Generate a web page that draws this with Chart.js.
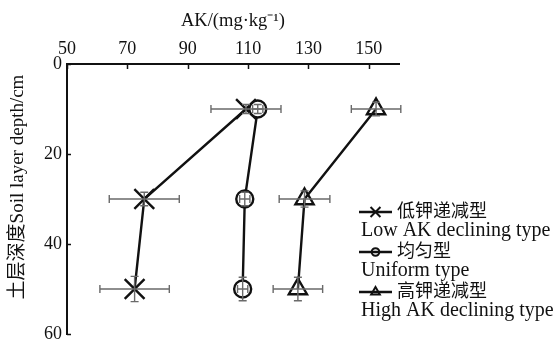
<!DOCTYPE html>
<html>
<head>
<meta charset="utf-8">
<script src="https://cdn.jsdelivr.net/npm/chart.js@4.4.1/dist/chart.umd.min.js"></script>
<style>
  html, body { margin: 0; padding: 0; background: #fff; }
  canvas { display: block; }
</style>
</head>
<body>
<canvas id="c" width="558" height="340"></canvas>
<script>
// Soil depth (cm) of the three sampled layers
const depths = [10, 30, 50];

// Available potassium, mg/kg, with standard errors (AK and depth)
const lowAK = [109.3, 75.6, 72.4];
const lowAKErr = [11.6, 11.6, 11.5];
const lowAKDepthErr = [1.0, 1.5, 2.8];

const uniformAK = [113.2, 108.9, 108.2];
const uniformAKErr = [1.7, 1.7, 1.7];
const uniformDepthErr = [1.0, 1.5, 2.6];

const highAK = [152.4, 128.7, 126.5];
const highAKErr = [8.2, 8.4, 8.2];
const highAKDepthErr = [1.5, 1.8, 2.6];

const xTicks = [50, 70, 90, 110, 130, 150];
const yTicks = [0, 20, 40, 60];

const seriesNames = [
  ['低钾递减型', 'Low AK declining type'],
  ['均匀型', 'Uniform type'],
  ['高钾递减型', 'High AK declining type']
];
const xTitle = 'AK/(mg·kg⁻¹)';
const yTitle = '土层深度Soil layer depth/cm';

const SERIF = '"Liberation Serif", "Times New Roman", "Noto Sans CJK SC", serif';
const CJK = '"Noto Sans CJK SC", "Liberation Serif", sans-serif';
const INK = '#111';
const ERR = '#6a6a6a';

function points(vals, errs, dErrs) {
  return vals.map((v, i) => ({ x: v, y: depths[i], xErr: errs[i], yErr: dErrs[i] }));
}

const datasets = [
  { label: seriesNames[0][1], data: points(lowAK, lowAKErr, lowAKDepthErr),
    pointStyle: 'crossRot', pointRadius: 14, pointBorderWidth: 2.4,
    pointBackgroundColor: 'rgba(0,0,0,0)' },
  { label: seriesNames[1][1], data: points(uniformAK, uniformAKErr, uniformDepthErr),
    pointStyle: 'circle', pointRadius: 8.5, pointBorderWidth: 2.4,
    pointBackgroundColor: '#fff' },
  { label: seriesNames[2][1], data: points(highAK, highAKErr, highAKDepthErr),
    pointStyle: 'triangle', pointRadius: 10.5, pointBorderWidth: 2.4,
    pointBackgroundColor: 'rgba(0,0,0,0)' }
].map(d => Object.assign({
  borderColor: INK, borderWidth: 2.4, pointBorderColor: INK,
  pointHoverRadius: d.pointRadius, fill: false, tension: 0
}, d));

// Horizontal (AK) and vertical (depth) error bars with caps
const errorBars = {
  id: 'errorBars',
  afterDatasetsDraw(chart) {
    const { ctx, scales: { x, y } } = chart;
    ctx.save();
    ctx.strokeStyle = ERR;
    ctx.lineWidth = 1.4;
    chart.data.datasets.forEach((ds, di) => {
      chart.getDatasetMeta(di).data.forEach((el, i) => {
        const r = ds.data[i];
        const py = el.y, px = el.x;
        const xl = x.getPixelForValue(r.x - r.xErr), xr = x.getPixelForValue(r.x + r.xErr);
        ctx.beginPath();
        ctx.moveTo(xl, py); ctx.lineTo(xr, py);
        ctx.moveTo(xl, py - 4); ctx.lineTo(xl, py + 4);
        ctx.moveTo(xr, py - 4); ctx.lineTo(xr, py + 4);
        const yt = y.getPixelForValue(r.y - r.yErr), yb = y.getPixelForValue(r.y + r.yErr);
        ctx.moveTo(px, yt); ctx.lineTo(px, yb);
        ctx.moveTo(px - 4, yt); ctx.lineTo(px + 4, yt);
        ctx.moveTo(px - 4, yb); ctx.lineTo(px + 4, yb);
        ctx.stroke();
      });
    });
    ctx.restore();
  }
};

// Inward tick marks, axis titles and the in-plot legend
const decorations = {
  id: 'decorations',
  afterDraw(chart) {
    const { ctx, chartArea: a, scales: { x, y } } = chart;
    ctx.save();
    ctx.strokeStyle = INK;
    ctx.lineWidth = 1.5;
    ctx.beginPath();
    xTicks.forEach(v => { const p = Math.round(x.getPixelForValue(v)) + 0.5; ctx.moveTo(p, a.top); ctx.lineTo(p, a.top + 5); });
    yTicks.forEach(v => { const p = Math.round(y.getPixelForValue(v)) + 0.5; ctx.moveTo(a.left, p); ctx.lineTo(a.left + 4, p); });
    ctx.stroke();

    ctx.fillStyle = INK;
    ctx.textAlign = 'center';
    ctx.textBaseline = 'middle';
    ctx.font = '18.5px ' + SERIF;
    ctx.fillText(xTitle, (a.left + a.right) / 2, 21);

    ctx.save();
    ctx.translate(18, 187);
    ctx.rotate(-Math.PI / 2);
    ctx.font = '19px ' + SERIF;
    ctx.fillText(yTitle, 0, 0);
    ctx.restore();

    // legend
    const lx0 = 359, lx1 = 392, textX = 397, enX = 361;
    const rows = [210, 250, 290];
    const enRows = [236, 276, 316];
    rows.forEach((ry, i) => {
      ctx.strokeStyle = INK;
      ctx.lineWidth = 2.4;
      ctx.beginPath();
      ctx.moveTo(lx0, ry + 2); ctx.lineTo(lx1, ry + 2);
      ctx.stroke();
      const ds = datasets[i];
      const rad = ds.pointStyle === 'crossRot' ? 7 : ds.pointStyle === 'circle' ? 3.8 : 5;
      ctx.fillStyle = 'rgba(0,0,0,0)';
      ctx.lineWidth = 2;
      Chart.helpers.drawPoint(ctx, {
        pointStyle: ds.pointStyle, radius: rad, rotation: 0, borderWidth: 2
      }, (lx0 + lx1) / 2, ry + 2);
      ctx.fillStyle = INK;
      ctx.textAlign = 'left';
      ctx.textBaseline = 'middle';
      ctx.font = '18px ' + CJK;
      ctx.fillText(seriesNames[i][0], textX, ry);
      ctx.textBaseline = 'alphabetic';
      ctx.font = '20px ' + SERIF;
      ctx.fillText(seriesNames[i][1], enX, enRows[i]);
    });
    ctx.restore();
  }
};

new Chart(document.getElementById('c'), {
  type: 'line',
  data: { datasets },
  plugins: [errorBars, decorations],
  options: {
    responsive: false,
    animation: false,
    devicePixelRatio: 1,
    layout: { autoPadding: false, padding: { left: 0, top: 0, right: 159, bottom: 6 } },
    plugins: { legend: { display: false }, tooltip: { enabled: false } },
    scales: {
      x: {
        type: 'linear', position: 'top', min: 50, max: 160,
        afterFit: s => { s.height = 64; s.paddingLeft = 0; s.paddingRight = 0; },
        afterBuildTicks: s => { s.ticks = xTicks.map(v => ({ value: v })); },
        grid: { display: false, drawTicks: false },
        border: { display: true, color: INK, width: 2 },
        ticks: { color: INK, padding: 4, maxRotation: 0, autoSkip: false,
                 font: { family: SERIF, size: 18 } },
        title: { display: false }
      },
      y: {
        type: 'linear', reverse: true, min: 0, max: 60,
        afterFit: s => { s.width = 67; s.paddingTop = 0; s.paddingBottom = 0; },
        afterBuildTicks: s => { s.ticks = yTicks.map(v => ({ value: v })); },
        grid: { display: false, drawTicks: false },
        border: { display: true, color: INK, width: 2 },
        ticks: { color: INK, padding: 5, autoSkip: false,
                 font: { family: SERIF, size: 18 } },
        title: { display: false }
      }
    }
  }
});
</script>
</body>
</html>
